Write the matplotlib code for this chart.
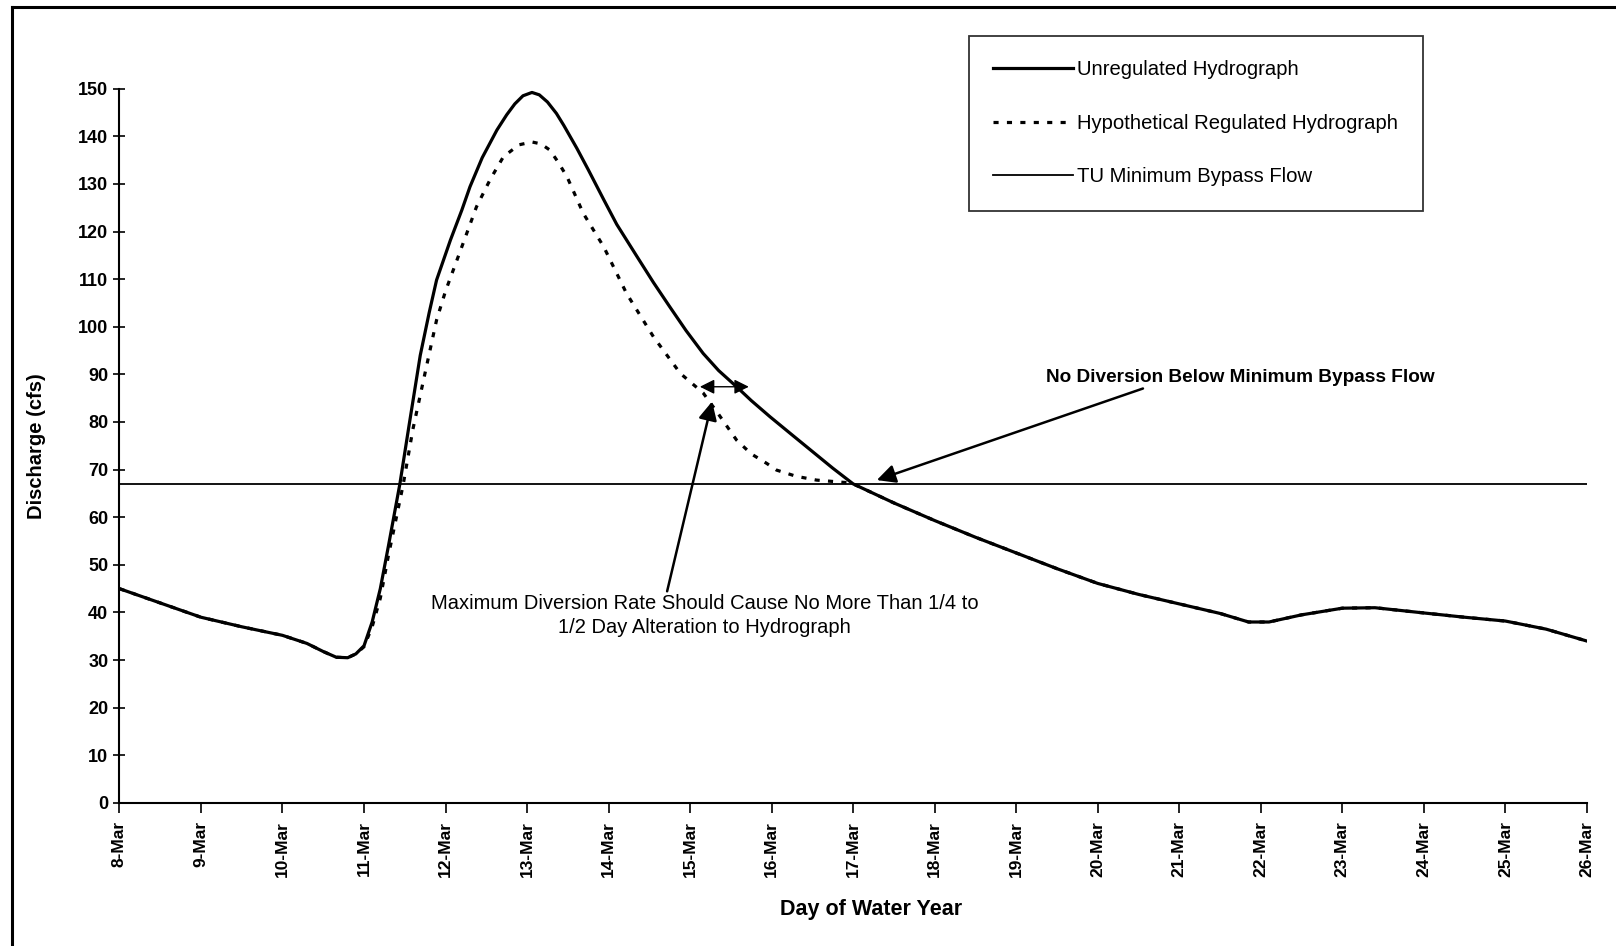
import matplotlib
matplotlib.use("Agg")
import matplotlib.pyplot as plt
from matplotlib.lines import Line2D

plt.rcParams['font.family'] = ['Liberation Sans', 'DejaVu Sans']

# Day labels along x (day 0 = 8-Mar)
day_labels = ['8-Mar', '9-Mar', '10-Mar', '11-Mar', '12-Mar', '13-Mar', '14-Mar',
              '15-Mar', '16-Mar', '17-Mar', '18-Mar', '19-Mar', '20-Mar', '21-Mar',
              '22-Mar', '23-Mar', '24-Mar', '25-Mar', '26-Mar']

# Unregulated hydrograph (days since 8-Mar, cfs)
unreg_days = [0, 0.5, 1, 1.5, 2, 2.3, 2.5, 2.66, 2.8, 2.9, 3.0, 3.1, 3.2, 3.3, 3.44,
              3.55, 3.69, 3.8, 3.89, 4.06, 4.2, 4.3, 4.45, 4.63, 4.75, 4.85, 4.95, 5.06,
              5.15, 5.25, 5.36, 5.45, 5.61, 5.75, 5.94, 6.1, 6.35, 6.55, 6.75, 6.95,
              7.16, 7.35, 7.57, 7.75, 7.98, 8.25, 8.5, 8.75, 9.0, 9.5, 10, 10.5, 11,
              11.5, 12, 12.5, 13, 13.5, 13.85, 14.1, 14.5, 15, 15.4, 16, 16.5, 17, 17.5, 18]
unreg_cfs = [45, 42, 39, 37, 35.2, 33.5, 31.8, 30.6, 30.5, 31.3, 33, 38, 45, 54, 67,
             79, 94, 103, 109.8, 118.2, 124.5, 129.4, 135.5, 141.3, 144.5, 146.8, 148.5, 149.2,
             148.7, 147.2, 144.8, 142.3, 137.5, 133, 126.7, 121.5, 114.7, 109.3, 104.2, 99.2,
             94.4, 90.8, 87.4, 84.5, 81.1, 77.3, 73.8, 70.3, 67, 63, 59.3, 55.8, 52.5,
             49.2, 46.1, 43.8, 41.8, 39.8, 38, 38, 39.5, 40.9, 41, 39.9, 39, 38.2, 36.5, 34]

# Hypothetical regulated hydrograph
reg_days = [0, 0.5, 1, 1.5, 2, 2.3, 2.5, 2.66, 2.8, 2.9, 3.0, 3.1, 3.2, 3.3, 3.48,
            3.6, 3.73, 3.89, 4.0, 4.14, 4.38, 4.55, 4.71, 4.9, 5.06, 5.17, 5.28, 5.38,
            5.49, 5.69, 5.94, 6.22, 6.55, 6.88, 7.16, 7.35, 7.57, 7.75, 7.94, 8.06,
            8.3, 8.55, 8.9, 9.0, 9.5, 10, 10.5, 11, 11.5, 12, 12.5, 13,
            13.5, 13.85, 14.1, 14.5, 15, 15.4, 16, 16.5, 17, 17.5, 18]
reg_cfs = [45, 42, 39, 37, 35.2, 33.5, 31.8, 30.6, 30.5, 31.3, 32.8, 37, 43, 52, 66.8,
           78.5, 88.8, 101.4, 107.5, 114, 125.2, 131, 135.7, 138.2, 138.8, 138.4, 137.1, 134.6,
           131.5, 123.8, 116.8, 107, 97.9, 90.2, 86.1, 81.6, 76.2, 73.3, 71.3, 69.9,
           68.6, 67.8, 67.3, 67, 63, 59.3, 55.8, 52.5, 49.2, 46.1, 43.8, 41.8,
           39.8, 38, 38, 39.5, 40.9, 41, 39.9, 39, 38.2, 36.5, 34]

bypass_flow = 67

fig = plt.figure(figsize=(16.16, 9.46), dpi=100)
ax = fig.add_axes([0.0739, 0.1512, 0.9081, 0.7551])

ax.plot(unreg_days, unreg_cfs, '-', color='black', linewidth=2.3,
        label='Unregulated Hydrograph', zorder=3, solid_joinstyle='round')
ax.plot(reg_days, reg_cfs, color='black', linewidth=2.3, linestyle=(0, (1.6, 2.6)),
        label='Hypothetical Regulated Hydrograph', zorder=3)
ax.axhline(bypass_flow, color='black', linewidth=1.3, label='TU Minimum Bypass Flow')

ax.set_xlim(0, 18)
ax.set_ylim(0, 150)
ax.set_xticks(range(len(day_labels)))
ax.set_xticklabels(day_labels, rotation=90, fontsize=12.5, fontweight='bold')
ax.set_yticks(range(0, 151, 10))
ax.set_yticklabels([str(v) for v in range(0, 151, 10)], fontsize=13, fontweight='bold')
ax.tick_params(axis='y', direction='inout', length=8, width=1.2, pad=4)
ax.tick_params(axis='x', direction='out', length=7, width=1.2, pad=6)

for s in ['top', 'right']:
    ax.spines[s].set_visible(False)
ax.spines['left'].set_linewidth(1.5)
ax.spines['bottom'].set_linewidth(1.5)

ax.set_ylabel('Discharge (cfs)', fontsize=14.5, fontweight='bold')
ax.yaxis.set_label_coords(-0.05, 0.5)
ax.set_xlabel('Day of Water Year', fontsize=15.5, fontweight='bold')
ax.xaxis.set_label_coords(0.512, -0.134)

# Annotations
ax.annotate('No Diversion Below Minimum Bypass Flow', xy=(9.29, 67.8), xytext=(13.75, 89.4),
            ha='center', va='center', fontsize=13.7, fontweight='bold',
            arrowprops=dict(arrowstyle='-|>', color='black', lw=1.8, mutation_scale=28,
                            shrinkA=0, shrinkB=0, relpos=(0.27, 0.0)))
ax.annotate('Maximum Diversion Rate Should Cause No More Than 1/4 to\n1/2 Day Alteration to Hydrograph',
            xy=(7.27, 84.3), xytext=(7.18, 39.4), ha='center', va='center', fontsize=14.5,
            linespacing=1.3,
            arrowprops=dict(arrowstyle='-|>', color='black', lw=1.8, mutation_scale=28,
                            shrinkA=0, shrinkB=0, relpos=(0.43, 1.0)))
ax.annotate('', xy=(7.12, 87.4), xytext=(7.72, 87.4),
            arrowprops=dict(arrowstyle='<|-|>', color='black', lw=1.0, mutation_scale=22,
                            shrinkA=0, shrinkB=0))

leg = ax.legend(loc='upper left', bbox_to_anchor=(969 / 1616, 1 - 36 / 946),
                bbox_transform=fig.transFigure, borderaxespad=0, fontsize=14.6,
                handlelength=3.95, handletextpad=0.2, labelspacing=1.7, borderpad=1.2,
                fancybox=False, frameon=True, edgecolor='black')
leg.get_frame().set_linewidth(1.3)

# Outer border of the scanned chart
fig.add_artist(Line2D([12 / 1616, 12 / 1616], [0, 1 - 7 / 946], color='black', lw=2.2,
                      transform=fig.transFigure))
fig.add_artist(Line2D([12 / 1616, 1], [1 - 7 / 946, 1 - 7 / 946], color='black', lw=2.2,
                      transform=fig.transFigure))

plt.savefig('out.png', dpi=100)
